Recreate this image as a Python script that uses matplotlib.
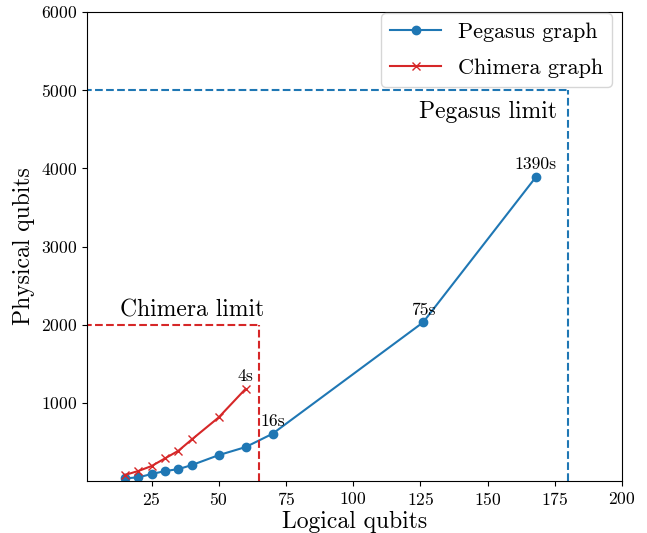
import matplotlib
matplotlib.use("Agg")
import matplotlib.pyplot as plt

plt.rcParams['font.family'] = 'serif'
plt.rcParams['font.serif'] = ['cmr10']
plt.rcParams['mathtext.fontset'] = 'cm'
plt.rcParams['axes.formatter.use_mathtext'] = True

pegasus_x = [15, 20, 25, 30, 35, 40, 50, 60, 70, 126, 168]
pegasus_y = [35, 47, 90, 128, 153, 205, 332, 435, 605, 2030, 3890]
chimera_x = [15, 20, 25, 30, 35, 40, 50, 60]
chimera_y = [77, 128, 192, 290, 388, 533, 815, 1180]

chimera_limit_x = 65
chimera_limit_y = 2000
pegasus_limit_x = 180
pegasus_limit_y = 5000

annot_x = [60, 70, 126, 168]
annot_y = [1180, 605, 2030, 3890]
annot_text = ['4s', '16s', '75s', '1390s']

blue = '#1f77b4'
red = '#d62728'

fig = plt.figure(figsize=(6.47, 5.33), dpi=100)
ax = fig.add_axes([87/647, 1-481/533, (622-87)/647, (481-12)/533])

ax.plot(pegasus_x, pegasus_y, marker='o', color=blue, label='Pegasus graph')
ax.plot(chimera_x, chimera_y, marker='x', color=red, label='Chimera graph')

ax.plot([0, chimera_limit_x], [chimera_limit_y, chimera_limit_y], '--', color=red)
ax.plot([chimera_limit_x, chimera_limit_x], [0, chimera_limit_y], '--', color=red)
ax.plot([0, pegasus_limit_x], [pegasus_limit_y, pegasus_limit_y], '--', color=blue)
ax.plot([pegasus_limit_x, pegasus_limit_x], [0, pegasus_limit_y], '--', color=blue)

for x, y, t in zip(annot_x, annot_y, annot_text):
    ax.text(x, y + 100, t, ha='center', fontsize=12.7)

ax.text(40, 2100, 'Chimera limit', ha='center', fontsize=17)
ax.text(150, 4650, 'Pegasus limit', ha='center', fontsize=17)

ax.set_xlim(1, 200)
ax.set_ylim(1, 6000)
ax.set_xticks([25, 50, 75, 100, 125, 150, 175, 200])
ax.set_yticks([1000, 2000, 3000, 4000, 5000, 6000])
ax.tick_params(labelsize=12.7)
ax.set_xlabel('Logical qubits', fontsize=17, labelpad=2)
ax.set_ylabel('Physical qubits', fontsize=17)
ax.legend(loc='upper right', bbox_to_anchor=(0.981, 0.9972), borderaxespad=0,
          fontsize=16, labelspacing=0.75, handlelength=2.3, handletextpad=0.75)

fig.savefig('out.png', dpi=100)
